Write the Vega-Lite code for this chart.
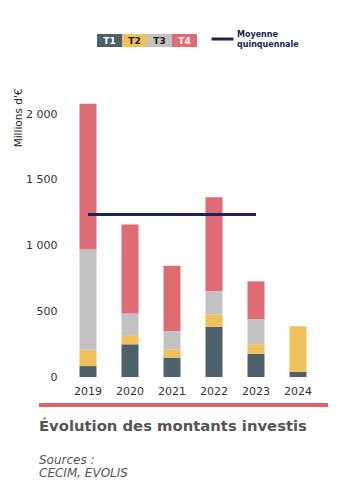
{
  "$schema": "https://vega.github.io/schema/vega-lite/v6.json",
  "background": "white",
  "padding": {"left": 13, "top": 26, "right": 5, "bottom": 5},
  "config": {"font": "DejaVu Sans", "view": {"stroke": null}},
  "datasets": {
    "tranches": [{"tranche": "T1"}, {"tranche": "T2"}, {"tranche": "T3"}, {"tranche": "T4"}],
    "montants": [
      {"annee": "2019", "tranche": "T1", "montant": 83},
      {"annee": "2019", "tranche": "T2", "montant": 124},
      {"annee": "2019", "tranche": "T3", "montant": 763},
      {"annee": "2019", "tranche": "T4", "montant": 1111},
      {"annee": "2020", "tranche": "T1", "montant": 249},
      {"annee": "2020", "tranche": "T2", "montant": 70},
      {"annee": "2020", "tranche": "T3", "montant": 165},
      {"annee": "2020", "tranche": "T4", "montant": 677},
      {"annee": "2021", "tranche": "T1", "montant": 147},
      {"annee": "2021", "tranche": "T2", "montant": 61},
      {"annee": "2021", "tranche": "T3", "montant": 142},
      {"annee": "2021", "tranche": "T4", "montant": 496},
      {"annee": "2022", "tranche": "T1", "montant": 383},
      {"annee": "2022", "tranche": "T2", "montant": 94},
      {"annee": "2022", "tranche": "T3", "montant": 177},
      {"annee": "2022", "tranche": "T4", "montant": 715},
      {"annee": "2023", "tranche": "T1", "montant": 177},
      {"annee": "2023", "tranche": "T2", "montant": 72},
      {"annee": "2023", "tranche": "T3", "montant": 192},
      {"annee": "2023", "tranche": "T4", "montant": 287},
      {"annee": "2024", "tranche": "T1", "montant": 40},
      {"annee": "2024", "tranche": "T2", "montant": 346}
    ],
    "moyenne": [{"debut": "2019", "fin": "2023", "valeur": 1237}]
  },
  "vconcat": [
    {
      "width": 289,
      "height": 13,
      "data": {"name": "tranches"},
      "layer": [
        {
          "mark": {"type": "rect"},
          "encoding": {
            "x": {"field": "tranche", "type": "nominal", "axis": null, "scale": {"range": [58, 158], "paddingInner": 0, "paddingOuter": 0}},
            "color": {"field": "tranche", "type": "nominal", "legend": null, "scale": {"domain": ["T1", "T2", "T3", "T4"], "range": ["#4e616b", "#f0c05a", "#c2c2c2", "#df6b74"]}}
          }
        },
        {
          "mark": {"type": "text", "fontWeight": "bold", "fontSize": 9, "baseline": "middle"},
          "encoding": {
            "x": {"field": "tranche", "type": "nominal", "axis": null, "scale": {"range": [58, 158], "paddingInner": 0, "paddingOuter": 0}},
            "text": {"field": "tranche"},
            "color": {"condition": {"test": "datum.tranche === 'T1' || datum.tranche === 'T4'", "value": "#ffffff"}, "value": "#1a1a1a"}
          }
        }
      ]
    },
    {
      "spacing": 7,
      "vconcat": [
        {
          "width": 289,
          "height": 289,
          "layer": [
            {
              "data": {"name": "montants"},
              "mark": {"type": "bar"},
              "encoding": {
                "x": {"field": "annee", "type": "ordinal", "title": null, "scale": {"range": [28, 280], "paddingInner": 0.595, "paddingOuter": 0.2975}, "axis": {"domain": false, "ticks": false, "labelAngle": 0, "labelPadding": 8, "labelFontSize": 11, "labelColor": "#333333"}},
                "y": {"field": "montant", "type": "quantitative", "stack": "zero", "title": "Millions d'€", "scale": {"domain": [0, 2200], "nice": false}, "axis": {"values": [0, 500, 1000, 1500, 2000], "grid": false, "domain": false, "ticks": false, "offset": -20, "labelPadding": 2, "labelFontSize": 11, "labelColor": "#333333", "labelExpr": "replace(format(datum.value, ','), ',', ' ')", "titleAnchor": "end", "titlePadding": 2, "titleFontSize": 10.5, "titleFontWeight": "normal", "titleColor": "#222222"}},
                "color": {"field": "tranche", "type": "nominal", "legend": null, "scale": {"domain": ["T1", "T2", "T3", "T4"], "range": ["#4e616b", "#f0c05a", "#c2c2c2", "#df6b74"]}},
                "order": {"field": "tranche", "sort": "ascending"}
              }
            },
            {
              "data": {"name": "moyenne"},
              "mark": {"type": "rule", "strokeWidth": 3},
              "encoding": {
                "x": {"field": "debut", "type": "ordinal", "title": null},
                "x2": {"field": "fin"},
                "y": {"field": "valeur", "type": "quantitative", "title": "Millions d'€"},
                "stroke": {"datum": "Moyenne quinquennale", "scale": {"range": ["#1c2453"]}, "legend": {"title": null, "orient": "none", "legendX": 171, "legendY": -7.5, "symbolType": "stroke", "symbolStrokeWidth": 3, "symbolSize": 484, "labelFontSize": 8, "labelFontWeight": "bold", "labelColor": "#1c2453", "labelOffset": 2, "labelBaseline": "bottom", "labelExpr": "['Moyenne', 'quinquennale']"}}
              }
            }
          ]
        },
        {
          "width": 289,
          "height": 4,
          "data": {"name": "moyenne"},
          "mark": {"type": "rect", "color": "#d9646e"},
          "encoding": {},
          "title": {"text": "Évolution des montants investis", "orient": "bottom", "anchor": "start", "offset": 12, "fontSize": 14.8, "fontWeight": 600, "color": "#555555", "subtitle": ["Sources :", "CECIM, EVOLIS"], "subtitleFontStyle": "italic", "subtitleFontSize": 12, "subtitleColor": "#555555", "subtitlePadding": 21, "subtitleLineHeight": 13}
        }
      ]
    }
  ],
  "spacing": 40
}
